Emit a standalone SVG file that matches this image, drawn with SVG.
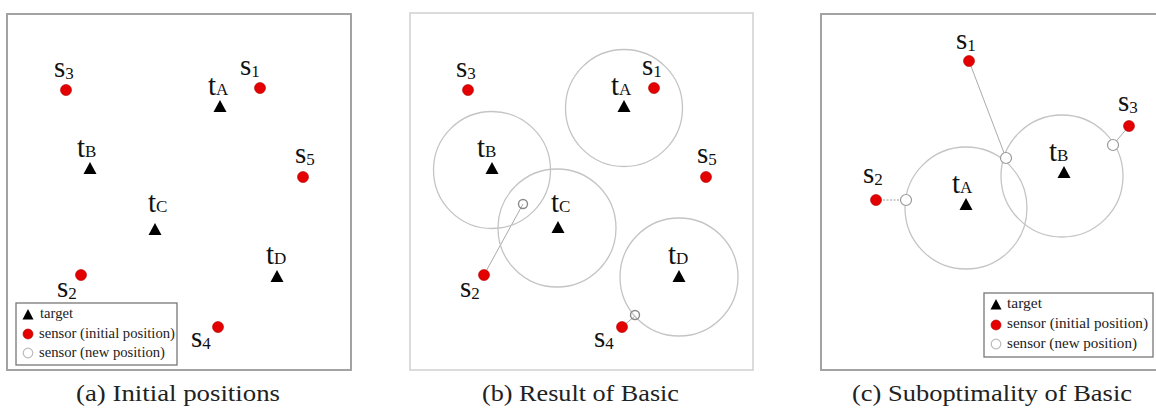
<svg xmlns="http://www.w3.org/2000/svg" width="1156" height="408" viewBox="0 0 1156 408">
<style>
.frame{fill:#fff;stroke:#a3a3a3;stroke-width:2}
.frameb{fill:#fff;stroke:#d0d0d0;stroke-width:1.5}
.lbl{font-family:'Liberation Serif','DejaVu Serif',serif;font-size:29px;fill:#111}
.sub{font-size:17px}
.cap{font-family:'Liberation Serif','DejaVu Serif',serif;font-size:24px;fill:#222}
.leg{font-family:'Liberation Serif','DejaVu Serif',serif;font-size:14px;fill:#222}
.legbox{fill:#fff;stroke:#777;stroke-width:1.3}
.sensor{fill:#e40000;stroke:#b00000;stroke-width:0.6}
.target{fill:#000}
.range{fill:none;stroke:#c4c4c4;stroke-width:1.3}
.newb{fill:none;stroke:#8a8a8a;stroke-width:1.4}
.newc{fill:#fff;stroke:#9a9a9a;stroke-width:1.2}
.newl{fill:#fff;stroke:#bbb;stroke-width:1.2}
.conn{stroke:#aaa;stroke-width:1;fill:none}
.dot{stroke:#999;stroke-width:1;stroke-dasharray:2 1.5;fill:none}
</style>
<defs>
<path id="tri" d="M0,-7 L6.5,5 L-6.5,5 Z" class="target"/>
<path id="trismall" d="M0,-6 L5.5,4.5 L-5.5,4.5 Z" class="target"/>
</defs>

<!-- frames -->
<rect x="7" y="14" width="344" height="356" class="frame"/>
<rect x="410" y="13" width="343" height="357" class="frameb"/>
<rect x="821" y="14" width="340" height="356" class="frame"/>

<!-- ===== Panel (a) ===== -->
<g id="a-tA"><use href="#tri" x="220" y="107"/><text class="lbl" x="208" y="95">t<tspan class="sub">A</tspan></text></g>
<g id="a-tB"><use href="#tri" x="90" y="169"/><text class="lbl" x="77" y="157">t<tspan class="sub">B</tspan></text></g>
<g id="a-tC"><use href="#tri" x="155" y="230"/><text class="lbl" x="148" y="212">t<tspan class="sub">C</tspan></text></g>
<g id="a-tD"><use href="#tri" x="277" y="277"/><text class="lbl" x="266" y="264">t<tspan class="sub">D</tspan></text></g>
<g id="a-s1"><circle cx="260" cy="88" r="5.5" class="sensor"/><text class="lbl" x="240" y="75">s<tspan class="sub" dy="2">1</tspan></text></g>
<g id="a-s2"><circle cx="81" cy="275" r="5.5" class="sensor"/><text class="lbl" x="57" y="297">s<tspan class="sub" dy="2">2</tspan></text></g>
<g id="a-s3"><circle cx="66" cy="90" r="5.5" class="sensor"/><text class="lbl" x="54" y="77">s<tspan class="sub" dy="2">3</tspan></text></g>
<g id="a-s4"><circle cx="218" cy="327" r="5.5" class="sensor"/><text class="lbl" x="191" y="347">s<tspan class="sub" dy="2">4</tspan></text></g>
<g id="a-s5"><circle cx="303" cy="177" r="5.5" class="sensor"/><text class="lbl" x="295" y="163">s<tspan class="sub" dy="2">5</tspan></text></g>
<g id="a-legend">
<rect x="16" y="303" width="161" height="62" class="legbox"/>
<use href="#trismall" x="28" y="315"/><text class="leg" x="40" y="318" textLength="33" lengthAdjust="spacingAndGlyphs">target</text>
<circle cx="28" cy="334" r="5" class="sensor"/><text class="leg" x="39" y="338" textLength="136" lengthAdjust="spacingAndGlyphs">sensor (initial position)</text>
<circle cx="28" cy="353" r="4.8" class="newl"/><text class="leg" x="39" y="357" textLength="126" lengthAdjust="spacingAndGlyphs">sensor (new position)</text>
</g>
<text id="cap-a" class="cap" x="76" y="401" textLength="204" lengthAdjust="spacingAndGlyphs">(a) Initial positions</text>

<!-- ===== Panel (b) ===== -->
<g id="b-connectors">
<line x1="484" y1="275" x2="523" y2="204" class="conn"/>
<line x1="622" y1="327" x2="635" y2="316" class="conn"/>
</g>
<g id="b-tA"><circle cx="624" cy="108" r="58.5" class="range"/><use href="#tri" x="624" y="107"/><text class="lbl" x="611" y="95">t<tspan class="sub">A</tspan></text></g>
<g id="b-tB"><circle cx="492" cy="170" r="58.5" class="range"/><use href="#tri" x="492" y="169"/><text class="lbl" x="477" y="157">t<tspan class="sub">B</tspan></text></g>
<g id="b-tC"><circle cx="557" cy="228" r="59" class="range"/><use href="#tri" x="558" y="228"/><text class="lbl" x="551" y="212">t<tspan class="sub">C</tspan></text></g>
<g id="b-tD"><circle cx="679" cy="277" r="59" class="range"/><use href="#tri" x="679" y="277"/><text class="lbl" x="668" y="264">t<tspan class="sub">D</tspan></text></g>
<g id="b-s1"><circle cx="654" cy="88" r="5.5" class="sensor"/><text class="lbl" x="642" y="75">s<tspan class="sub" dy="2">1</tspan></text></g>
<g id="b-s2"><circle cx="484" cy="275" r="5.5" class="sensor"/><circle cx="523" cy="204" r="4.5" class="newb"/><text class="lbl" x="460" y="297">s<tspan class="sub" dy="2">2</tspan></text></g>
<g id="b-s3"><circle cx="468" cy="90" r="5.5" class="sensor"/><text class="lbl" x="456" y="77">s<tspan class="sub" dy="2">3</tspan></text></g>
<g id="b-s4"><circle cx="622" cy="327" r="5.5" class="sensor"/><circle cx="635" cy="315" r="4.5" class="newb"/><text class="lbl" x="594" y="347">s<tspan class="sub" dy="2">4</tspan></text></g>
<g id="b-s5"><circle cx="706" cy="177" r="5.5" class="sensor"/><text class="lbl" x="697" y="163">s<tspan class="sub" dy="2">5</tspan></text></g>
<text id="cap-b" class="cap" x="482" y="401" textLength="197" lengthAdjust="spacingAndGlyphs">(b) Result of Basic</text>

<!-- ===== Panel (c) ===== -->
<g id="c-connectors">
<line x1="969" y1="61" x2="1006" y2="158" class="conn"/>
<line x1="1129" y1="126" x2="1113" y2="145" class="conn"/>
<line x1="876" y1="200" x2="906" y2="200" class="dot"/>
</g>
<g id="c-tA"><circle cx="966" cy="208" r="61" class="range"/><use href="#tri" x="966" y="205"/><text class="lbl" x="952" y="193">t<tspan class="sub">A</tspan></text></g>
<g id="c-tB"><circle cx="1062" cy="176" r="61" class="range"/><use href="#tri" x="1064" y="173"/><text class="lbl" x="1049" y="161">t<tspan class="sub">B</tspan></text></g>
<g id="c-s1"><circle cx="969" cy="61" r="5.5" class="sensor"/><circle cx="1006" cy="158" r="5.5" class="newc"/><text class="lbl" x="956" y="49">s<tspan class="sub" dy="2">1</tspan></text></g>
<g id="c-s2"><circle cx="876" cy="200" r="5.5" class="sensor"/><circle cx="906" cy="200" r="5.5" class="newc"/><text class="lbl" x="863" y="183">s<tspan class="sub" dy="2">2</tspan></text></g>
<g id="c-s3"><circle cx="1129" cy="126" r="5.5" class="sensor"/><circle cx="1113" cy="145" r="5.5" class="newc"/><text class="lbl" x="1118" y="111">s<tspan class="sub" dy="2">3</tspan></text></g>
<g id="c-legend">
<rect x="984" y="293" width="169" height="64" class="legbox"/>
<use href="#trismall" x="996" y="305"/><text class="leg" x="1007" y="308" textLength="35" lengthAdjust="spacingAndGlyphs">target</text>
<circle cx="996" cy="325" r="5" class="sensor"/><text class="leg" x="1007" y="328" textLength="141" lengthAdjust="spacingAndGlyphs">sensor (initial position)</text>
<circle cx="996" cy="344" r="4.8" class="newl"/><text class="leg" x="1007" y="348" textLength="130" lengthAdjust="spacingAndGlyphs">sensor (new position)</text>
</g>
<text id="cap-c" class="cap" x="852" y="401" textLength="280" lengthAdjust="spacingAndGlyphs">(c) Suboptimality of Basic</text>
</svg>
